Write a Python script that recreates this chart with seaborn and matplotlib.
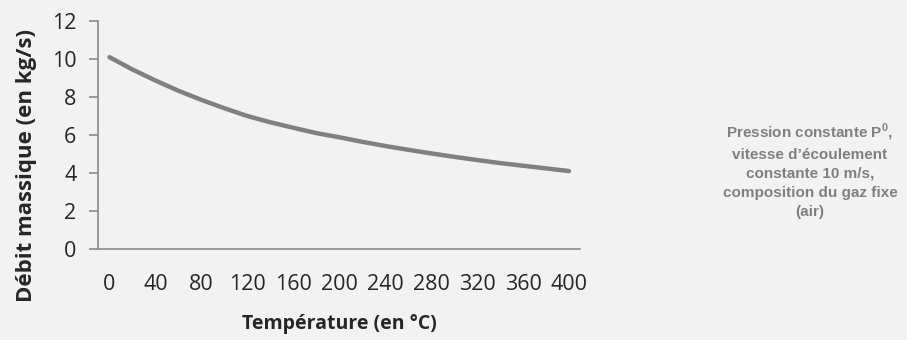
import pandas as pd
import matplotlib.pyplot as plt
import seaborn as sns

# Values
temperature = [0, 20, 40, 60, 80, 100, 120, 140, 160, 180, 200,
               220, 240, 260, 280, 300, 320, 340, 360, 380, 400]
debit = [10.1, 9.45, 8.87, 8.33, 7.85, 7.41, 7.0, 6.67, 6.38, 6.1, 5.88,
         5.64, 5.42, 5.22, 5.03, 4.85, 4.68, 4.52, 4.38, 4.24, 4.1]
x_ticks = [0, 40, 80, 120, 160, 200, 240, 280, 320, 360, 400]
y_ticks = [0, 2, 4, 6, 8, 10, 12]
note = ("Pression constante P$^\\mathbf{0}$,\nvitesse d\u2019écoulement\n"
        "constante 10 m/s,\ncomposition du gaz fixe\n(air)")

df = pd.DataFrame({'T': temperature, 'Q': debit})

sns.set_style('white')
plt.rcParams['font.family'] = ['Open Sans', 'DejaVu Sans']
plt.rcParams['mathtext.fontset'] = 'custom'
plt.rcParams['mathtext.bf'] = 'Liberation Sans:bold'
plt.rcParams['mathtext.rm'] = 'Liberation Sans'
bg = '#f2f2f2'
axis_col = '#898989'
txt = '#262626'

fig = plt.figure(figsize=(9.07, 3.40), dpi=100, facecolor=bg)
ax = fig.add_axes([0.108, 0.268, 0.532, 0.670])
ax.set_facecolor(bg)

sns.lineplot(data=df, x='T', y='Q', ax=ax, color='#808080', linewidth=3.2,
             solid_capstyle='round', solid_joinstyle='round')

ax.set_xlim(-10, 410)
ax.set_ylim(0, 12)
ax.set_xticks(x_ticks)
ax.set_yticks(y_ticks)

for s in ['top', 'right']:
    ax.spines[s].set_visible(False)
for s in ['left', 'bottom']:
    ax.spines[s].set_color(axis_col)
    ax.spines[s].set_linewidth(1.2)

ax.tick_params(axis='y', direction='out', length=6.5, width=1.2, color=axis_col,
               labelsize=15.5, labelcolor=txt, pad=9, left=True)
ax.tick_params(axis='x', length=0, labelsize=15.5, labelcolor=txt, pad=18)

ax.set_xlabel('Température (en °C)', fontsize=14, fontweight='bold', color=txt)
ax.set_ylabel('Débit massique (en kg/s)', fontsize=16, fontweight='bold', color=txt)
ax.xaxis.set_label_coords(0.5, -0.285)
ax.yaxis.set_label_coords(-0.127, 0.364)

fig.text(0.893, 0.50, note, ha='center', va='center', fontsize=11, fontweight='bold',
         color='#808080', linespacing=1.45, family=['Liberation Sans', 'DejaVu Sans'])

fig.savefig('out.png', dpi=100, facecolor=bg)
